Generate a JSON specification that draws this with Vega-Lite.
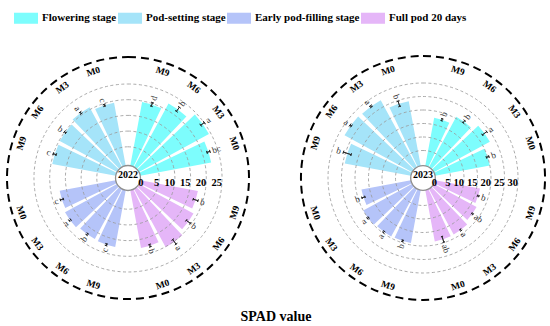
{
  "$schema": "https://vega.github.io/schema/vega-lite/v6.json",
  "padding": {"left": 2, "top": 6, "right": 5, "bottom": 2},
  "background": "white",
  "datasets": {
    "d2022": [
      {"slot": 1, "stage": "Flowering stage", "treat": "M9", "value": 19.7, "lo": 19.1, "hi": 20.3, "sig": "d"},
      {"slot": 2, "stage": "Flowering stage", "treat": "M6", "value": 22.1, "lo": 21.3, "hi": 22.9, "sig": "b"},
      {"slot": 3, "stage": "Flowering stage", "treat": "M3", "value": 24.4, "lo": 23.7, "hi": 25.1, "sig": "a"},
      {"slot": 4, "stage": "Flowering stage", "treat": "M0", "value": 22.0, "lo": 21.5, "hi": 22.5, "sig": "bc"},
      {"slot": 6, "stage": "Full pod 20 days", "treat": "M9", "value": 17.7, "lo": 16.9, "hi": 18.5, "sig": "b"},
      {"slot": 7, "stage": "Full pod 20 days", "treat": "M6", "value": 18.8, "lo": 18.0, "hi": 19.6, "sig": "b"},
      {"slot": 8, "stage": "Full pod 20 days", "treat": "M3", "value": 20.2, "lo": 19.3, "hi": 21.1, "sig": "a"},
      {"slot": 9, "stage": "Full pod 20 days", "treat": "M0", "value": 17.7, "lo": 17.3, "hi": 18.1, "sig": "b"},
      {"slot": 11, "stage": "Early pod-filling stage", "treat": "M9", "value": 17.4, "lo": 17.1, "hi": 17.7, "sig": "c"},
      {"slot": 12, "stage": "Early pod-filling stage", "treat": "M6", "value": 17.2, "lo": 16.9, "hi": 17.5, "sig": "b"},
      {"slot": 13, "stage": "Early pod-filling stage", "treat": "M3", "value": 17.9, "lo": 17.6, "hi": 18.2, "sig": "a"},
      {"slot": 14, "stage": "Early pod-filling stage", "treat": "M0", "value": 17.2, "lo": 16.7, "hi": 17.7, "sig": "c"},
      {"slot": 16, "stage": "Pod-setting stage", "treat": "M9", "value": 19.6, "lo": 19.1, "hi": 20.1, "sig": "c"},
      {"slot": 17, "stage": "Pod-setting stage", "treat": "M6", "value": 19.8, "lo": 19.5, "hi": 20.1, "sig": "b"},
      {"slot": 18, "stage": "Pod-setting stage", "treat": "M3", "value": 20.7, "lo": 20.4, "hi": 21.0, "sig": "a"},
      {"slot": 19, "stage": "Pod-setting stage", "treat": "M0", "value": 19.4, "lo": 19.1, "hi": 19.7, "sig": "c"}
    ],
    "d2023": [
      {"slot": 1, "stage": "Flowering stage", "treat": "M9", "value": 17.5, "lo": 17.1, "hi": 17.9, "sig": "b"},
      {"slot": 2, "stage": "Flowering stage", "treat": "M6", "value": 20.6, "lo": 20.1, "hi": 21.1, "sig": "b"},
      {"slot": 3, "stage": "Flowering stage", "treat": "M3", "value": 23.0, "lo": 22.0, "hi": 24.0, "sig": "a"},
      {"slot": 4, "stage": "Flowering stage", "treat": "M0", "value": 20.0, "lo": 19.5, "hi": 20.5, "sig": "b"},
      {"slot": 6, "stage": "Full pod 20 days", "treat": "M9", "value": 16.3, "lo": 16.0, "hi": 16.6, "sig": "b"},
      {"slot": 7, "stage": "Full pod 20 days", "treat": "M6", "value": 17.4, "lo": 17.1, "hi": 17.7, "sig": "ab"},
      {"slot": 8, "stage": "Full pod 20 days", "treat": "M3", "value": 18.6, "lo": 18.3, "hi": 18.9, "sig": "a"},
      {"slot": 9, "stage": "Full pod 20 days", "treat": "M0", "value": 18.7, "lo": 17.6, "hi": 19.8, "sig": "ab"},
      {"slot": 11, "stage": "Early pod-filling stage", "treat": "M9", "value": 19.3, "lo": 19.0, "hi": 19.6, "sig": "b"},
      {"slot": 12, "stage": "Early pod-filling stage", "treat": "M6", "value": 19.5, "lo": 19.2, "hi": 19.8, "sig": "a"},
      {"slot": 13, "stage": "Early pod-filling stage", "treat": "M3", "value": 20.0, "lo": 19.7, "hi": 20.3, "sig": "a"},
      {"slot": 14, "stage": "Early pod-filling stage", "treat": "M0", "value": 18.0, "lo": 17.4, "hi": 18.6, "sig": "b"},
      {"slot": 16, "stage": "Pod-setting stage", "treat": "M9", "value": 24.3, "lo": 22.8, "hi": 25.8, "sig": "b"},
      {"slot": 17, "stage": "Pod-setting stage", "treat": "M6", "value": 27.9, "lo": 27.6, "hi": 28.2, "sig": "a"},
      {"slot": 18, "stage": "Pod-setting stage", "treat": "M3", "value": 27.6, "lo": 27.3, "hi": 27.9, "sig": "a"},
      {"slot": 19, "stage": "Pod-setting stage", "treat": "M0", "value": 23.7, "lo": 22.7, "hi": 24.7, "sig": "b"}
    ],
    "t2022": [{"t": 0}, {"t": 5}, {"t": 10}, {"t": 15}, {"t": 20}, {"t": 25}],
    "t2023": [{"t": 0}, {"t": 5}, {"t": 10}, {"t": 15}, {"t": 20}, {"t": 25}, {"t": 30}]
  },
  "title": {"text": "SPAD value", "orient": "bottom", "anchor": "middle", "font": "Liberation Serif", "fontSize": 14, "fontWeight": "bold", "color": "#000", "offset": 6},
  "spacing": 43,
  "hconcat": [
    {
      "width": 250, "height": 250,
      "data": {"name": "d2022"},
      "resolve": {"scale": {"angle": "independent"}},
      "layer": [
        {"mark": {"type": "arc", "thetaOffset": -0.1305, "theta2Offset": 0.1305},
         "encoding": {
           "theta": {"field": "slot", "type": "quantitative", "stack": null, "scale": {"type": "linear", "domain": [0, 20], "range": [0, 6.283185307], "zero": false, "nice": false}},
           "theta2": {"field": "slot"},
           "radius": {"field": "value", "type": "quantitative", "scale": {"type": "linear", "domain": [0, 25], "range": [15.5, 94], "zero": false, "nice": false}},
           "radius2": {"datum": -0.96},
           "color": {"field": "stage", "type": "nominal",
             "scale": {"domain": ["Flowering stage", "Pod-setting stage", "Early pod-filling stage", "Full pod 20 days"], "range": ["#7dfdfd", "#a5e4f9", "#b5c4f9", "#e5b6f8"]},
             "legend": {"title": null, "orient": "none", "legendX": 11, "legendY": -47, "direction": "horizontal", "symbolType": "M-1,-0.46H1V0.46H-1Z", "symbolSize": 576, "symbolStrokeWidth": 0, "symbolOpacity": 1, "labelFont": "Liberation Serif", "labelFontSize": 11, "labelFontWeight": "bold", "labelColor": "#000", "columnPadding": 1, "labelOffset": 4, "padding": 0}}}},
        {"data": {"name": "t2022"}, "transform": [{"filter": "datum.t > 0"}],
         "mark": {"type": "arc", "filled": false, "stroke": "#9b9b9b", "strokeWidth": 1, "strokeDash": [3, 2.5], "strokeOpacity": 0.85},
         "encoding": {"theta": {"value": 0}, "theta2": {"value": 6.2832},
           "radius": {"field": "t", "type": "quantitative", "stack": null, "scale": {"type": "linear", "domain": [0, 25], "range": [15.5, 94], "zero": false, "nice": false}},
           "radius2": {"datum": -4.94}}},
        {"data": {"values": [{"c": "hole"}]},
         "mark": {"type": "arc", "filled": true, "fill": "#ffffff", "stroke": "#8f8f8f", "strokeWidth": 1.3},
         "encoding": {"theta": {"value": 0}, "theta2": {"value": 6.2832},
           "radius": {"datum": -0.96, "type": "quantitative", "stack": null, "scale": {"type": "linear", "domain": [0, 25], "range": [15.5, 94], "zero": false, "nice": false}},
           "radius2": {"datum": -4.94}}},
        {"mark": {"type": "arc", "filled": false, "stroke": "#222", "strokeWidth": 0.8},
         "encoding": {
           "theta": {"field": "slot", "type": "quantitative", "stack": null, "scale": {"type": "linear", "domain": [0, 20], "range": [0, 6.283185307], "zero": false, "nice": false}},
           "theta2": {"field": "slot"},
           "radius": {"field": "lo", "type": "quantitative", "scale": {"type": "linear", "domain": [0, 25], "range": [15.5, 94], "zero": false, "nice": false}},
           "radius2": {"field": "hi"}}},
        {"mark": {"type": "arc", "filled": false, "stroke": "#222", "strokeWidth": 0.8, "thetaOffset": -0.018, "theta2Offset": 0.018},
         "encoding": {
           "theta": {"field": "slot", "type": "quantitative", "stack": null, "scale": {"type": "linear", "domain": [0, 20], "range": [0, 6.283185307], "zero": false, "nice": false}},
           "theta2": {"field": "slot"},
           "radius": {"field": "hi", "type": "quantitative", "scale": {"type": "linear", "domain": [0, 25], "range": [15.5, 94], "zero": false, "nice": false}},
           "radius2": {"field": "hi"}}},
        {"mark": {"type": "arc", "filled": false, "stroke": "#222", "strokeWidth": 0.8, "thetaOffset": -0.018, "theta2Offset": 0.018},
         "encoding": {
           "theta": {"field": "slot", "type": "quantitative", "stack": null, "scale": {"type": "linear", "domain": [0, 20], "range": [0, 6.283185307], "zero": false, "nice": false}},
           "theta2": {"field": "slot"},
           "radius": {"field": "lo", "type": "quantitative", "scale": {"type": "linear", "domain": [0, 25], "range": [15.5, 94], "zero": false, "nice": false}},
           "radius2": {"field": "lo"}}},
        {"transform": [{"filter": "datum.slot < 10"}],
         "mark": {"type": "text", "font": "Liberation Serif", "fontSize": 9, "align": "left", "baseline": "middle", "dx": 2.5, "color": "#333"},
         "encoding": {
           "theta": {"field": "slot", "type": "quantitative", "scale": {"type": "linear", "domain": [0, 20], "range": [0, 6.283185307], "zero": false, "nice": false}},
           "radius": {"field": "hi", "type": "quantitative", "scale": {"type": "linear", "domain": [0, 25], "range": [15.5, 94], "zero": false, "nice": false}},
           "text": {"field": "sig"},
           "angle": {"field": "slot", "type": "quantitative", "scale": {"type": "linear", "domain": [0, 20], "range": [-90, 270], "zero": false, "nice": false}, "legend": null}}},
        {"transform": [{"filter": "datum.slot > 10"}],
         "mark": {"type": "text", "font": "Liberation Serif", "fontSize": 9, "align": "right", "baseline": "middle", "dx": -2.5, "color": "#333"},
         "encoding": {
           "theta": {"field": "slot", "type": "quantitative", "scale": {"type": "linear", "domain": [0, 20], "range": [0, 6.283185307], "zero": false, "nice": false}},
           "radius": {"field": "hi", "type": "quantitative", "scale": {"type": "linear", "domain": [0, 25], "range": [15.5, 94], "zero": false, "nice": false}},
           "text": {"field": "sig"},
           "angle": {"field": "slot", "type": "quantitative", "scale": {"type": "linear", "domain": [0, 20], "range": [-270, 90], "zero": false, "nice": false}, "legend": null}}},
        {"transform": [{"filter": "datum.slot < 5 || datum.slot > 15"}],
         "mark": {"type": "text", "font": "Liberation Serif", "fontSize": 9.5, "fontWeight": "bold", "align": "center", "baseline": "middle", "color": "#000"},
         "encoding": {
           "theta": {"field": "slot", "type": "quantitative", "scale": {"type": "linear", "domain": [0, 20], "range": [0, 6.283185307], "zero": false, "nice": false}},
           "radius": {"datum": 30.7, "type": "quantitative", "scale": {"type": "linear", "domain": [0, 25], "range": [15.5, 94], "zero": false, "nice": false}},
           "text": {"field": "treat"},
           "angle": {"field": "slot", "type": "quantitative", "scale": {"type": "linear", "domain": [0, 20], "range": [0, 360], "zero": false, "nice": false}, "legend": null}}},
        {"transform": [{"filter": "datum.slot > 5 && datum.slot < 15"}],
         "mark": {"type": "text", "font": "Liberation Serif", "fontSize": 9.5, "fontWeight": "bold", "align": "center", "baseline": "middle", "color": "#000"},
         "encoding": {
           "theta": {"field": "slot", "type": "quantitative", "scale": {"type": "linear", "domain": [0, 20], "range": [0, 6.283185307], "zero": false, "nice": false}},
           "radius": {"datum": 30.7, "type": "quantitative", "scale": {"type": "linear", "domain": [0, 25], "range": [15.5, 94], "zero": false, "nice": false}},
           "text": {"field": "treat"},
           "angle": {"field": "slot", "type": "quantitative", "scale": {"type": "linear", "domain": [0, 20], "range": [-180, 180], "zero": false, "nice": false}, "legend": null}}},
        {"data": {"values": [{"ring": "outer"}]},
         "mark": {"type": "arc", "filled": false, "stroke": "#000", "strokeWidth": 2, "strokeDash": [8, 5]},
         "encoding": {"theta": {"value": 0}, "theta2": {"value": 6.2832},
           "radius": {"datum": 33.6, "type": "quantitative", "stack": null, "scale": {"type": "linear", "domain": [0, 25], "range": [15.5, 94], "zero": false, "nice": false}},
           "radius2": {"datum": -4.94}}},
        {"data": {"name": "t2022"},
         "mark": {"type": "text", "font": "Liberation Serif", "fontSize": 10.5, "fontWeight": "bold", "align": "right", "baseline": "middle", "dy": 5, "color": "#000"},
         "encoding": {"theta": {"value": 1.5708},
           "radius": {"field": "t", "type": "quantitative", "scale": {"type": "linear", "domain": [0, 25], "range": [15.5, 94], "zero": false, "nice": false}},
           "text": {"field": "t"}}},
        {"data": {"values": [{"year": "2022"}]},
         "mark": {"type": "text", "font": "Liberation Serif", "fontSize": 10, "fontWeight": "bold", "dy": -3, "color": "#000"},
         "encoding": {"text": {"field": "year"}}}
      ]
    },
    {
      "width": 250, "height": 250,
      "data": {"name": "d2023"},
      "resolve": {"scale": {"angle": "independent"}},
      "layer": [
        {"mark": {"type": "arc", "thetaOffset": -0.1305, "theta2Offset": 0.1305},
         "encoding": {
           "theta": {"field": "slot", "type": "quantitative", "stack": null, "scale": {"type": "linear", "domain": [0, 20], "range": [0, 6.283185307], "zero": false, "nice": false}},
           "theta2": {"field": "slot"},
           "radius": {"field": "value", "type": "quantitative", "scale": {"type": "linear", "domain": [0, 30], "range": [14, 95], "zero": false, "nice": false}},
           "radius2": {"datum": -0.63},
           "color": {"field": "stage", "type": "nominal",
             "scale": {"domain": ["Flowering stage", "Pod-setting stage", "Early pod-filling stage", "Full pod 20 days"], "range": ["#7dfdfd", "#a5e4f9", "#b5c4f9", "#e5b6f8"]},
             "legend": {"title": null, "orient": "none", "legendX": 11, "legendY": -47, "direction": "horizontal", "symbolType": "M-1,-0.46H1V0.46H-1Z", "symbolSize": 576, "symbolStrokeWidth": 0, "symbolOpacity": 1, "labelFont": "Liberation Serif", "labelFontSize": 11, "labelFontWeight": "bold", "labelColor": "#000", "columnPadding": 1, "labelOffset": 4, "padding": 0}}}},
        {"data": {"name": "t2023"}, "transform": [{"filter": "datum.t > 0"}],
         "mark": {"type": "arc", "filled": false, "stroke": "#9b9b9b", "strokeWidth": 1, "strokeDash": [3, 2.5], "strokeOpacity": 0.85},
         "encoding": {"theta": {"value": 0}, "theta2": {"value": 6.2832},
           "radius": {"field": "t", "type": "quantitative", "stack": null, "scale": {"type": "linear", "domain": [0, 30], "range": [14, 95], "zero": false, "nice": false}},
           "radius2": {"datum": -5.19}}},
        {"data": {"values": [{"c": "hole"}]},
         "mark": {"type": "arc", "filled": true, "fill": "#ffffff", "stroke": "#8f8f8f", "strokeWidth": 1.3},
         "encoding": {"theta": {"value": 0}, "theta2": {"value": 6.2832},
           "radius": {"datum": -0.63, "type": "quantitative", "stack": null, "scale": {"type": "linear", "domain": [0, 30], "range": [14, 95], "zero": false, "nice": false}},
           "radius2": {"datum": -5.19}}},
        {"mark": {"type": "arc", "filled": false, "stroke": "#222", "strokeWidth": 0.8},
         "encoding": {
           "theta": {"field": "slot", "type": "quantitative", "stack": null, "scale": {"type": "linear", "domain": [0, 20], "range": [0, 6.283185307], "zero": false, "nice": false}},
           "theta2": {"field": "slot"},
           "radius": {"field": "lo", "type": "quantitative", "scale": {"type": "linear", "domain": [0, 30], "range": [14, 95], "zero": false, "nice": false}},
           "radius2": {"field": "hi"}}},
        {"mark": {"type": "arc", "filled": false, "stroke": "#222", "strokeWidth": 0.8, "thetaOffset": -0.018, "theta2Offset": 0.018},
         "encoding": {
           "theta": {"field": "slot", "type": "quantitative", "stack": null, "scale": {"type": "linear", "domain": [0, 20], "range": [0, 6.283185307], "zero": false, "nice": false}},
           "theta2": {"field": "slot"},
           "radius": {"field": "hi", "type": "quantitative", "scale": {"type": "linear", "domain": [0, 30], "range": [14, 95], "zero": false, "nice": false}},
           "radius2": {"field": "hi"}}},
        {"mark": {"type": "arc", "filled": false, "stroke": "#222", "strokeWidth": 0.8, "thetaOffset": -0.018, "theta2Offset": 0.018},
         "encoding": {
           "theta": {"field": "slot", "type": "quantitative", "stack": null, "scale": {"type": "linear", "domain": [0, 20], "range": [0, 6.283185307], "zero": false, "nice": false}},
           "theta2": {"field": "slot"},
           "radius": {"field": "lo", "type": "quantitative", "scale": {"type": "linear", "domain": [0, 30], "range": [14, 95], "zero": false, "nice": false}},
           "radius2": {"field": "lo"}}},
        {"transform": [{"filter": "datum.slot < 10"}],
         "mark": {"type": "text", "font": "Liberation Serif", "fontSize": 9, "align": "left", "baseline": "middle", "dx": 2.5, "color": "#333"},
         "encoding": {
           "theta": {"field": "slot", "type": "quantitative", "scale": {"type": "linear", "domain": [0, 20], "range": [0, 6.283185307], "zero": false, "nice": false}},
           "radius": {"field": "hi", "type": "quantitative", "scale": {"type": "linear", "domain": [0, 30], "range": [14, 95], "zero": false, "nice": false}},
           "text": {"field": "sig"},
           "angle": {"field": "slot", "type": "quantitative", "scale": {"type": "linear", "domain": [0, 20], "range": [-90, 270], "zero": false, "nice": false}, "legend": null}}},
        {"transform": [{"filter": "datum.slot > 10"}],
         "mark": {"type": "text", "font": "Liberation Serif", "fontSize": 9, "align": "right", "baseline": "middle", "dx": -2.5, "color": "#333"},
         "encoding": {
           "theta": {"field": "slot", "type": "quantitative", "scale": {"type": "linear", "domain": [0, 20], "range": [0, 6.283185307], "zero": false, "nice": false}},
           "radius": {"field": "hi", "type": "quantitative", "scale": {"type": "linear", "domain": [0, 30], "range": [14, 95], "zero": false, "nice": false}},
           "text": {"field": "sig"},
           "angle": {"field": "slot", "type": "quantitative", "scale": {"type": "linear", "domain": [0, 20], "range": [-270, 90], "zero": false, "nice": false}, "legend": null}}},
        {"transform": [{"filter": "datum.slot < 5 || datum.slot > 15"}],
         "mark": {"type": "text", "font": "Liberation Serif", "fontSize": 9.5, "fontWeight": "bold", "align": "center", "baseline": "middle", "color": "#000"},
         "encoding": {
           "theta": {"field": "slot", "type": "quantitative", "scale": {"type": "linear", "domain": [0, 20], "range": [0, 6.283185307], "zero": false, "nice": false}},
           "radius": {"datum": 36.7, "type": "quantitative", "scale": {"type": "linear", "domain": [0, 30], "range": [14, 95], "zero": false, "nice": false}},
           "text": {"field": "treat"},
           "angle": {"field": "slot", "type": "quantitative", "scale": {"type": "linear", "domain": [0, 20], "range": [0, 360], "zero": false, "nice": false}, "legend": null}}},
        {"transform": [{"filter": "datum.slot > 5 && datum.slot < 15"}],
         "mark": {"type": "text", "font": "Liberation Serif", "fontSize": 9.5, "fontWeight": "bold", "align": "center", "baseline": "middle", "color": "#000"},
         "encoding": {
           "theta": {"field": "slot", "type": "quantitative", "scale": {"type": "linear", "domain": [0, 20], "range": [0, 6.283185307], "zero": false, "nice": false}},
           "radius": {"datum": 36.7, "type": "quantitative", "scale": {"type": "linear", "domain": [0, 30], "range": [14, 95], "zero": false, "nice": false}},
           "text": {"field": "treat"},
           "angle": {"field": "slot", "type": "quantitative", "scale": {"type": "linear", "domain": [0, 20], "range": [-180, 180], "zero": false, "nice": false}, "legend": null}}},
        {"data": {"values": [{"ring": "outer"}]},
         "mark": {"type": "arc", "filled": false, "stroke": "#000", "strokeWidth": 2, "strokeDash": [8, 5]},
         "encoding": {"theta": {"value": 0}, "theta2": {"value": 6.2832},
           "radius": {"datum": 40, "type": "quantitative", "stack": null, "scale": {"type": "linear", "domain": [0, 30], "range": [14, 95], "zero": false, "nice": false}},
           "radius2": {"datum": -5.19}}},
        {"data": {"name": "t2023"},
         "mark": {"type": "text", "font": "Liberation Serif", "fontSize": 10.5, "fontWeight": "bold", "align": "right", "baseline": "middle", "dy": 5, "color": "#000"},
         "encoding": {"theta": {"value": 1.5708},
           "radius": {"field": "t", "type": "quantitative", "scale": {"type": "linear", "domain": [0, 30], "range": [14, 95], "zero": false, "nice": false}},
           "text": {"field": "t"}}},
        {"data": {"values": [{"year": "2023"}]},
         "mark": {"type": "text", "font": "Liberation Serif", "fontSize": 10, "fontWeight": "bold", "dy": -3, "color": "#000"},
         "encoding": {"text": {"field": "year"}}}
      ]
    }
  ],
  "resolve": {"scale": {"color": "shared", "theta": "independent", "radius": "independent", "angle": "independent"}, "legend": {"color": "shared"}},
  "config": {"view": {"stroke": null}, "text": {"font": "Liberation Serif"}}
}
